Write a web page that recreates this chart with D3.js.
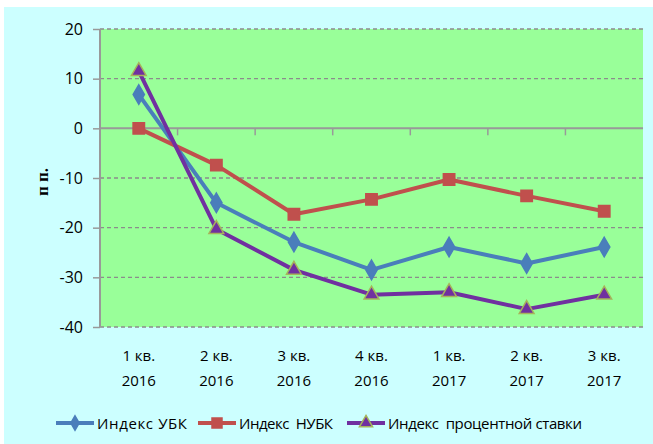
<!DOCTYPE html>
<html><head><meta charset="utf-8">
<script src="https://cdn.jsdelivr.net/npm/d3@7"></script>
<style>body{margin:0;background:#fff;} svg{display:block;}</style>
</head><body>
<svg id="c" width="653" height="444"></svg>
<script>
const categories = [["1 кв.","2016"],["2 кв.","2016"],["3 кв.","2016"],["4 кв.","2016"],["1 кв.","2017"],["2 кв.","2017"],["3 кв.","2017"]];
const ubk = [6.8, -15.0, -22.9, -28.5, -23.9, -27.2, -23.9];
const nubk = [0.0, -7.4, -17.3, -14.3, -10.3, -13.6, -16.7];
const rate = [11.5, -20.3, -28.5, -33.5, -33.0, -36.4, -33.5];
const yTicks = [20, 10, 0, -10, -20, -30, -40];
const seriesNames = ["Индекс УБК", "Индекс  НУБК", "Индекс  процентной ставки"];

const svg = d3.select("#c");
const W = 653, H = 444;
const font = "'Open Sans', sans-serif";
svg.append("rect").attr("x",4).attr("y",7).attr("width",W-4).attr("height",H-7).attr("fill","#ccffff");

const L = 100, R = 643, T = 29, B = 327;
const x = d3.scaleBand().domain(d3.range(categories.length)).range([L, R]);
const y = d3.scaleLinear().domain([-40, 20]).range([B, T]);

svg.append("rect").attr("x",L).attr("y",T).attr("width",R-L).attr("height",B-T).attr("fill","#99ff99");

// gridlines
svg.append("g").selectAll("line").data(yTicks.filter(d=>d!==0)).join("line")
  .attr("x1",L).attr("x2",R).attr("y1",d=>y(d)).attr("y2",d=>y(d))
  .attr("stroke","#8c8c8c").attr("stroke-width",1.3).attr("stroke-dasharray","4,3");

// y axis
const ya = svg.append("g").attr("transform",`translate(${L},0)`)
  .call(d3.axisLeft(y).tickValues(yTicks).tickSize(7).tickPadding(10).tickFormat(d=>String(d)));
ya.select(".domain").attr("stroke","#999").attr("stroke-width",2).attr("d",`M0,${T}V${B}`);
ya.selectAll(".tick line").attr("stroke","#999").attr("stroke-width",1.5);
ya.selectAll("text").attr("font-family",font).attr("font-size",16).attr("fill","#000");

// zero axis with category ticks
const za = svg.append("g").attr("transform",`translate(0,${y(0)})`)
  .call(d3.axisBottom(x).tickSize(0).tickFormat(""));
za.select(".domain").attr("stroke","#999").attr("stroke-width",2).attr("d",`M${L},0H${R}`);
za.selectAll(".tick").remove();
svg.append("g").selectAll("line").data(d3.range(1, categories.length)).join("line")
  .attr("x1",i=>x(i)).attr("x2",i=>x(i)).attr("y1",y(0)).attr("y2",y(0)+7)
  .attr("stroke","#999").attr("stroke-width",1.5);

// x labels
const xl = svg.append("g");
categories.forEach((c,i)=>{
  const t = xl.append("text").attr("x",x(i)+x.bandwidth()/2).attr("text-anchor","middle")
    .attr("font-family",font).attr("font-size",15).attr("fill","#000");
  t.append("tspan").attr("x",x(i)+x.bandwidth()/2).attr("y",361).text(c[0]);
  t.append("tspan").attr("x",x(i)+x.bandwidth()/2).attr("y",386).text(c[1]);
});

// y title
svg.append("text").attr("transform","translate(48,182) rotate(-90)").attr("text-anchor","middle")
  .attr("font-family","'Liberation Serif', serif").attr("font-weight","bold").attr("font-size",17)
  .text("п п.");

const cx = i => x(i)+x.bandwidth()/2;
const line = d3.line().x((d,i)=>cx(i)).y(d=>y(d));
const series = [
  {data: ubk, color:"#4a7ebb", sym: d3.symbolDiamond, size: 110, lsize: 60, stroke:"#4a7ebb"},
  {data: nubk, color:"#c0504d", sym: d3.symbolSquare, size: 130, lsize: 100, stroke:"#c0504d"},
  {data: rate, color:"#7030a0", sym: d3.symbolTriangle, size: 95, lsize: 75, stroke:"#a6b35a"}
];
series.forEach(s=>{
  svg.append("path").attr("d",line(s.data)).attr("fill","none").attr("stroke",s.color).attr("stroke-width",4).attr("stroke-linejoin","round");
});
series.forEach(s=>{
  svg.append("g").selectAll("path").data(s.data).join("path")
    .attr("transform",(d,i)=>`translate(${cx(i)},${y(d)})`)
    .attr("d",d3.symbol().type(s.sym).size(s.size))
    .attr("fill",s.color).attr("stroke",s.stroke).attr("stroke-width",1.5);
});

// legend
const legX = [56, 198, 347];
const legW = [90, 94, 194];
series.forEach((s,k)=>{
  const g = svg.append("g").attr("transform",`translate(${legX[k]},423)`);
  g.append("line").attr("x1",0).attr("x2",38).attr("stroke",s.color).attr("stroke-width",4);
  g.append("path").attr("transform","translate(19,0)").attr("d",d3.symbol().type(s.sym).size(s.lsize))
    .attr("fill",s.color).attr("stroke",s.stroke).attr("stroke-width",1.5);
  g.append("text").attr("x",41).attr("y",5.5).attr("font-family",font).attr("font-size",15)
    .attr("textLength",legW[k]).attr("lengthAdjust","spacing")
    .attr("xml:space","preserve").style("white-space","pre").text(seriesNames[k]);
});
</script>
</body></html>
